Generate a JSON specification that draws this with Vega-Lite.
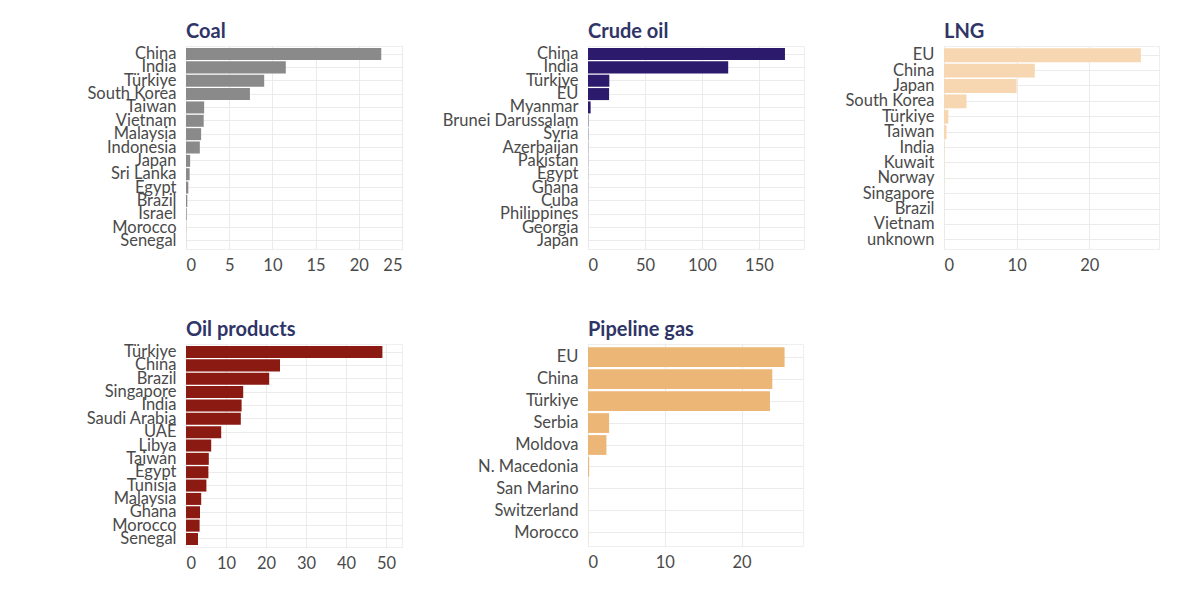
{
  "$schema": "https://vega.github.io/schema/vega-lite/v6.json",
  "background": "white",
  "padding": {"left": 0, "top": 21, "right": 5, "bottom": 5},
  "datasets": {
    "coal": [
      {"country": "China", "value": 22.6},
      {"country": "India", "value": 11.55},
      {"country": "Türkiye", "value": 9.05},
      {"country": "South Korea", "value": 7.4},
      {"country": "Taiwan", "value": 2.1},
      {"country": "Vietnam", "value": 2.05},
      {"country": "Malaysia", "value": 1.75},
      {"country": "Indonesia", "value": 1.6},
      {"country": "Japan", "value": 0.48},
      {"country": "Sri Lanka", "value": 0.42},
      {"country": "Egypt", "value": 0.27},
      {"country": "Brazil", "value": 0.15},
      {"country": "Israel", "value": 0.08},
      {"country": "Morocco", "value": 0.02},
      {"country": "Senegal", "value": 0.01}
    ],
    "crude": [
      {"country": "China", "value": 172.8},
      {"country": "India", "value": 123},
      {"country": "Türkiye", "value": 18.7},
      {"country": "EU", "value": 18.5},
      {"country": "Myanmar", "value": 2.3},
      {"country": "Brunei Darussalam", "value": 0.3},
      {"country": "Syria", "value": 0.2},
      {"country": "Azerbaijan", "value": 0.15},
      {"country": "Pakistan", "value": 0.12},
      {"country": "Egypt", "value": 0.1},
      {"country": "Ghana", "value": 0.08},
      {"country": "Cuba", "value": 0.06},
      {"country": "Philippines", "value": 0.05},
      {"country": "Georgia", "value": 0.03},
      {"country": "Japan", "value": 0.02}
    ],
    "lng": [
      {"country": "EU", "value": 27.1},
      {"country": "China", "value": 12.5},
      {"country": "Japan", "value": 10.0},
      {"country": "South Korea", "value": 3.1},
      {"country": "Türkiye", "value": 0.6},
      {"country": "Taiwan", "value": 0.35},
      {"country": "India", "value": 0.05},
      {"country": "Kuwait", "value": 0.04},
      {"country": "Norway", "value": 0.03},
      {"country": "Singapore", "value": 0.02},
      {"country": "Brazil", "value": 0.02},
      {"country": "Vietnam", "value": 0.01},
      {"country": "unknown", "value": 0.01}
    ],
    "oil": [
      {"country": "Türkiye", "value": 49.1},
      {"country": "China", "value": 23.5},
      {"country": "Brazil", "value": 20.8},
      {"country": "Singapore", "value": 14.3},
      {"country": "India", "value": 13.9},
      {"country": "Saudi Arabia", "value": 13.7},
      {"country": "UAE", "value": 8.8},
      {"country": "Libya", "value": 6.3},
      {"country": "Taiwan", "value": 5.7},
      {"country": "Egypt", "value": 5.6},
      {"country": "Tunisia", "value": 5.1},
      {"country": "Malaysia", "value": 3.8},
      {"country": "Ghana", "value": 3.5},
      {"country": "Morocco", "value": 3.4},
      {"country": "Senegal", "value": 3.0}
    ],
    "pipe": [
      {"country": "EU", "value": 25.6},
      {"country": "China", "value": 24.0},
      {"country": "Türkiye", "value": 23.7},
      {"country": "Serbia", "value": 2.75},
      {"country": "Moldova", "value": 2.4},
      {"country": "N. Macedonia", "value": 0.15},
      {"country": "San Marino", "value": 0.02},
      {"country": "Switzerland", "value": 0.01},
      {"country": "Morocco", "value": 0.01}
    ]
  },
  "vconcat": [
    {
      "hconcat": [
        {
          "title": "Coal",
          "width": 216,
          "height": 203,
          "data": {"name": "coal"},
          "mark": {"type": "bar", "color": "#8a8a8a"},
          "encoding": {
            "y": {"field": "country", "type": "nominal", "sort": null, "title": null,
                  "scale": {"paddingInner": 0.1, "paddingOuter": 0.15},
                  "axis": {"minExtent": 183, "maxExtent": 183}},
            "x": {"field": "value", "type": "quantitative", "title": null,
                  "scale": {"domain": [0, 25], "nice": false},
                  "axis": {"values": [0, 5, 10, 15, 20, 25]}}
          }
        },
        {
          "title": "Crude oil",
          "width": 216,
          "height": 203,
          "data": {"name": "crude"},
          "mark": {"type": "bar", "color": "#2c1b6d"},
          "encoding": {
            "y": {"field": "country", "type": "nominal", "sort": null, "title": null,
                  "scale": {"paddingInner": 0.1, "paddingOuter": 0.15},
                  "axis": {"minExtent": 184, "maxExtent": 184}},
            "x": {"field": "value", "type": "quantitative", "title": null,
                  "scale": {"domain": [0, 189.5], "nice": false},
                  "axis": {"values": [0, 50, 100, 150]}}
          }
        },
        {
          "title": "LNG",
          "width": 215,
          "height": 203,
          "data": {"name": "lng"},
          "mark": {"type": "bar", "color": "#f7d6b2"},
          "encoding": {
            "y": {"field": "country", "type": "nominal", "sort": null, "title": null,
                  "scale": {"paddingInner": 0.1, "paddingOuter": 0.15},
                  "axis": {"minExtent": 138, "maxExtent": 138}},
            "x": {"field": "value", "type": "quantitative", "title": null,
                  "scale": {"domain": [0, 29.6], "nice": false},
                  "axis": {"values": [0, 10, 20]}}
          }
        }
      ]
    },
    {
      "hconcat": [
        {
          "title": "Oil products",
          "width": 216,
          "height": 203,
          "data": {"name": "oil"},
          "mark": {"type": "bar", "color": "#8b1a12"},
          "encoding": {
            "y": {"field": "country", "type": "nominal", "sort": null, "title": null,
                  "scale": {"paddingInner": 0.1, "paddingOuter": 0.15},
                  "axis": {"minExtent": 185, "maxExtent": 185}},
            "x": {"field": "value", "type": "quantitative", "title": null,
                  "scale": {"domain": [0, 54], "nice": false},
                  "axis": {"values": [0, 10, 20, 30, 40, 50]}}
          }
        },
        {
          "title": "Pipeline gas",
          "width": 215,
          "height": 202,
          "data": {"name": "pipe"},
          "mark": {"type": "bar", "color": "#ecb676"},
          "encoding": {
            "y": {"field": "country", "type": "nominal", "sort": null, "title": null,
                  "scale": {"paddingInner": 0.1, "paddingOuter": 0.15},
                  "axis": {"minExtent": 184, "maxExtent": 184}},
            "x": {"field": "value", "type": "quantitative", "title": null,
                  "scale": {"domain": [0, 28], "nice": false},
                  "axis": {"values": [0, 10, 20]}}
          }
        }
      ]
    }
  ],
  "spacing": 45,
  "config": {
    "font": "Lato",
    "concat": {"spacing": 0},
    "view": {"stroke": "#eeeeee", "strokeWidth": 1},
    "title": {"fontSize": 20, "fontWeight": "bold", "color": "#2f3566", "anchor": "start", "frame": "group", "offset": 4, "font": "Lato"},
    "axis": {
      "ticks": false,
      "domain": false,
      "grid": true,
      "gridColor": "#ebebeb",
      "gridWidth": 1,
      "labelFontSize": 16.5,
      "labelColor": "#4a4a4a",
      "labelFont": "Lato"
    },
    "axisY": {"labelPadding": 10, "labelLimit": 300},
    "axisX": {"labelPadding": 8}
  }
}
